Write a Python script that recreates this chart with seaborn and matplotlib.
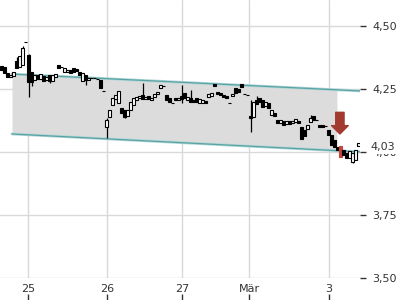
import numpy as np
import pandas as pd
import matplotlib
matplotlib.use("Agg")
import matplotlib.pyplot as plt
import matplotlib.transforms as mtransforms
import seaborn as sns

# ---------------- data ----------------
opens = [4.341, 4.337, 4.313, 4.298, 4.302, 4.361, 4.337, 4.345, 4.437, 4.385,
         4.317, 4.286, 4.306, 4.290, 4.302, 4.286, 4.306, 4.282, 4.298, 4.345,
         4.337, 4.317, 4.317, 4.325, 4.333, 4.329, 4.317, 4.282, 4.306, 4.286,
         4.294, 4.294, 4.290, 4.286, 4.242, 4.099, 4.139, 4.187, 4.210, 4.195,
         4.175, 4.167, 4.143, 4.167, 4.187, 4.206, 4.214, 4.226, 4.210, 4.222,
         4.206, 4.218, 4.230, 4.254, 4.262, 4.226, 4.214, 4.194, 4.214, 4.206,
         4.222, 4.234, 4.206, 4.214, 4.206, 4.214, 4.194, 4.194, 4.202, 4.218,
         4.222, 4.270, 4.238, 4.234, 4.226, 4.222, 4.194, 4.222, 4.254, 4.250,
         4.270, 4.230, 4.226, 4.143, 4.139, 4.206, 4.214, 4.206, 4.183, 4.194,
         4.147, 4.155, 4.127, 4.115, 4.123, 4.111, 4.123, 4.115, 4.119, 4.123,
         4.099, 4.087, 4.091, 4.119, 4.143, 4.127, 4.107, 4.107, 4.103, 4.087,
         4.067, 4.048, 4.020, 4.024, 4.008, 3.996, 3.976, 3.960, 3.968, 4.024]
closes = [4.325, 4.313, 4.298, 4.306, 4.317, 4.333, 4.381, 4.413, 4.437, 4.278,
          4.278, 4.306, 4.290, 4.310, 4.282, 4.298, 4.282, 4.306, 4.310, 4.333,
          4.337, 4.333, 4.325, 4.313, 4.317, 4.321, 4.306, 4.313, 4.286, 4.294,
          4.294, 4.294, 4.290, 4.254, 4.242, 4.127, 4.167, 4.214, 4.226, 4.242,
          4.155, 4.139, 4.167, 4.198, 4.214, 4.218, 4.222, 4.210, 4.218, 4.210,
          4.214, 4.230, 4.238, 4.266, 4.262, 4.206, 4.198, 4.194, 4.206, 4.214,
          4.210, 4.214, 4.218, 4.198, 4.198, 4.198, 4.210, 4.206, 4.194, 4.230,
          4.234, 4.262, 4.230, 4.226, 4.218, 4.214, 4.194, 4.230, 4.234, 4.238,
          4.258, 4.230, 4.226, 4.135, 4.198, 4.190, 4.198, 4.179, 4.198, 4.175,
          4.167, 4.143, 4.115, 4.127, 4.107, 4.123, 4.111, 4.123, 4.131, 4.115,
          4.052, 4.063, 4.107, 4.135, 4.127, 4.127, 4.099, 4.099, 4.103, 4.067,
          4.028, 4.020, 4.008, 3.980, 3.988, 3.976, 4.004, 3.996, 4.008, 4.036]
wick_high = {5: 4.377, 7: 4.420, 9: 4.390, 35: 4.135, 47: 4.274, 60: 4.266,
             63: 4.246, 83: 4.206, 85: 4.222, 103: 4.147}
wick_low = {9: 4.218, 10: 4.262, 16: 4.272, 28: 4.266, 35: 4.056, 41: 4.135,
            60: 4.194, 83: 4.079, 117: 3.955}
signal_candle = 113

tick_pos = [8.83, 35.17, 60.17, 82.5, 109.17]
tick_labels = ["25", "26", "27", "Mär", "3"]
y_ticks = [3.50, 3.75, 4.00, 4.25, 4.50]
last_price = 4.03

channel_x = [3.5, 119.5]
channel_top = [4.309, 4.242]
channel_bottom = [4.071, 4.000]
channel_fill_end = 111.8

arrow_x = 112.8
arrow_from = 4.157
arrow_to = 4.071

# ---------------- style ----------------
sns.set_style("white")
plt.rcParams['font.family'] = ['DejaVu Sans']
text_color = '#333333'

fig = plt.figure(figsize=(4, 3), dpi=100)
ax = fig.add_axes([0, 22 / 300, 360 / 400, 278 / 300])
ax.set_xlim(-0.5, 119.5)
ax.set_ylim(3.4988, 4.6033)

for s in ax.spines.values():
    s.set_visible(False)
ax.grid(True, color='#d9d9d9', linewidth=1.0, zorder=0)
ax.set_axisbelow(True)

# channel
xs = np.linspace(channel_x[0], channel_fill_end, 60)
ax.fill_between(xs, np.interp(xs, channel_x, channel_bottom),
                np.interp(xs, channel_x, channel_top), color='#dcdcdc',
                linewidth=0, zorder=1)
for vals in (channel_top, channel_bottom):
    df = pd.DataFrame({"x": channel_x, "y": vals})
    sns.lineplot(data=df, x="x", y="y", ax=ax, color='#b3d6d6', linewidth=2.0,
                 zorder=2, legend=False)
    sns.lineplot(data=df, x="x", y="y", ax=ax, color='#5aa3a4', linewidth=0.9,
                 zorder=2, legend=False)

# candles
o = np.array(opens)
c = np.array(closes)
n = len(o)
x = np.arange(n)
hi = np.maximum(o, c)
lo = np.minimum(o, c)
for i, v in wick_high.items():
    hi[i] = v
for i, v in wick_low.items():
    lo[i] = v
edge = ['#c0463c' if i == signal_candle else 'black' for i in range(n)]
face = ['#c0463c' if i == signal_candle else ('white' if c[i] > o[i] else 'black')
        for i in range(n)]
ax.vlines(x, lo, hi, colors=edge, linewidth=0.9, zorder=3)
ax.bar(x, c - o, bottom=o, width=0.7, color=face, edgecolor=edge,
       linewidth=0.8, zorder=4)

# arrow
ax.annotate("", xy=(arrow_x, arrow_to), xytext=(arrow_x, arrow_from),
            arrowprops=dict(arrowstyle="simple,head_length=0.6,head_width=1.2,tail_width=0.6",
                            color='#a33a30', shrinkA=0, shrinkB=0, mutation_scale=10),
            zorder=6)

# axes / ticks
ax.set_xlabel("")
ax.set_ylabel("")
ax.set_xticks(tick_pos)
ax.set_xticklabels(tick_labels)
ax.tick_params(axis='x', length=0, pad=4, labelsize=8, labelcolor=text_color)
ax.yaxis.tick_right()
ax.set_yticks(y_ticks)
ax.set_yticklabels([f"{v:.2f}".replace(".", ",") for v in y_ticks])
ax.tick_params(axis='y', right=True, length=4, width=1, color=text_color, pad=5,
               labelsize=8, labelcolor=text_color)

sec = ax.secondary_xaxis(-0.0576)
sec.set_xticks(tick_pos)
sec.set_xticklabels([])
sec.tick_params(length=4.5, width=1, color=text_color, direction='out')
for s in sec.spines.values():
    s.set_visible(False)

trans = mtransforms.blended_transform_factory(ax.transAxes, ax.transData)
ax.annotate(f"{last_price:.2f}".replace(".", ","), xy=(370 / 360, last_price),
            xycoords=trans, xytext=(0, -3), textcoords='offset pixels',
            ha='left', va='center', fontsize=8, color=text_color,
            bbox=dict(facecolor='white', edgecolor='none', pad=1.2),
            annotation_clip=False, zorder=10)

fig.savefig("out.png", dpi=100)
